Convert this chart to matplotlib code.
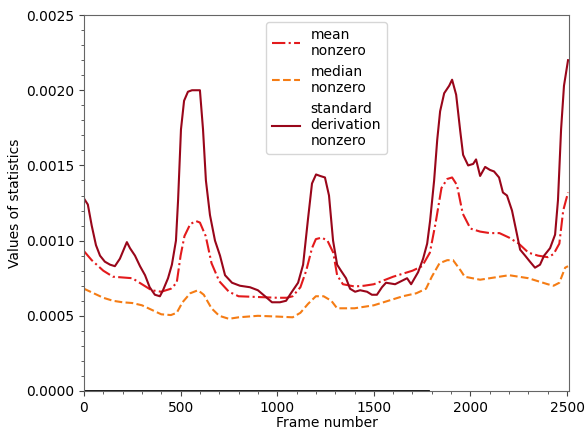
import matplotlib
matplotlib.use('Agg')
import matplotlib.pyplot as plt
from matplotlib.ticker import AutoMinorLocator

# valores
frames_std = [0, 20, 40, 62, 83, 108, 135, 160, 186, 212, 222, 238, 264, 290, 316, 340,
              367, 393, 409, 435, 455, 476, 487, 502, 518, 538, 559, 580, 600, 616, 631,
              652, 678, 704, 730, 766, 807, 859, 900, 937, 973, 1014, 1046, 1071, 1108,
              1134, 1159, 1180, 1201, 1222, 1247, 1268, 1289, 1310, 1330, 1356, 1377,
              1403, 1429, 1465, 1490, 1516, 1542, 1563, 1610, 1641, 1672, 1693, 1729,
              1755, 1776, 1791, 1812, 1828, 1843, 1864, 1890, 1905, 1926, 1947, 1962,
              1988, 2014, 2029, 2050, 2076, 2101, 2122, 2148, 2168, 2189, 2215, 2241,
              2257, 2283, 2308, 2334, 2360, 2381, 2412, 2438, 2453, 2469, 2484, 2505]
std_nonzero = [0.00128, 0.00124, 0.00110, 0.00097, 0.00090, 0.00086, 0.00084, 0.00083,
               0.00088, 0.00096, 0.00099, 0.00095, 0.00090, 0.00083, 0.00077, 0.00069,
               0.00064, 0.00063, 0.00067, 0.00075, 0.00084, 0.00100, 0.00127, 0.00174,
               0.00193, 0.00199, 0.00200, 0.00200, 0.00200, 0.00174, 0.00140, 0.00117,
               0.00100, 0.00090, 0.00077, 0.00072, 0.00070, 0.00069, 0.00067, 0.00063,
               0.00059, 0.00059, 0.00060, 0.00065, 0.00072, 0.00084, 0.00114, 0.00138,
               0.00144, 0.00143, 0.00142, 0.00130, 0.00100, 0.00084, 0.00080, 0.00075,
               0.00068, 0.00066, 0.00067, 0.00066, 0.00064, 0.00064, 0.00069, 0.00072,
               0.00071, 0.00073, 0.00075, 0.00071, 0.00079, 0.00088, 0.00098, 0.00113,
               0.00140, 0.00167, 0.00186, 0.00198, 0.00203, 0.00207, 0.00197, 0.00173,
               0.00157, 0.00150, 0.00151, 0.00154, 0.00143, 0.00149, 0.00147, 0.00146,
               0.00142, 0.00132, 0.00130, 0.00120, 0.00104, 0.00094, 0.00090, 0.00086,
               0.00082, 0.00084, 0.00090, 0.00095, 0.00104, 0.00127, 0.00174, 0.00203,
               0.00220]

frames_mean = [0, 40, 100, 150, 200, 250, 300, 350, 400, 450, 480, 500, 520, 550, 580,
               600, 630, 660, 700, 750, 800, 900, 1000, 1050, 1080, 1120, 1150, 1180,
               1200, 1230, 1260, 1290, 1310, 1340, 1400, 1450, 1500, 1600, 1700, 1750,
               1790, 1820, 1850, 1880, 1905, 1930, 1960, 2000, 2050, 2100, 2150, 2200,
               2250, 2300, 2350, 2400, 2430, 2460, 2480, 2505]
mean_nonzero = [0.00093, 0.00087, 0.00080, 0.00076, 0.000755, 0.00075, 0.00071, 0.00067,
                0.00066, 0.00068, 0.00072, 0.00090, 0.00103, 0.00111, 0.00113, 0.00112,
                0.00103, 0.00085, 0.00073, 0.00066, 0.00063, 0.000625, 0.00062, 0.00062,
                0.00063, 0.00069, 0.00080, 0.00095, 0.00101, 0.00102, 0.00100, 0.00092,
                0.00077, 0.00071, 0.000695, 0.00070, 0.00071, 0.00076, 0.00080, 0.00083,
                0.00092, 0.00112, 0.00135, 0.00141, 0.00142, 0.00137, 0.00118, 0.00108,
                0.00106, 0.00105, 0.00105, 0.00102, 0.00098, 0.00092, 0.00090, 0.00089,
                0.00091, 0.00098, 0.00120, 0.00132]

frames_median = [0, 50, 100, 150, 200, 250, 300, 350, 400, 450, 480, 510, 550, 590, 620,
                 660, 700, 750, 800, 900, 1000, 1080, 1120, 1160, 1200, 1240, 1280, 1310,
                 1400, 1500, 1600, 1650, 1720, 1770, 1800, 1840, 1880, 1910, 1950, 1970,
                 2050, 2100, 2200, 2300, 2400, 2430, 2460, 2490, 2505]
median_nonzero = [0.00068, 0.00065, 0.00062, 0.00060, 0.00059, 0.000585, 0.00057, 0.00054,
                  0.00051, 0.000505, 0.00052, 0.00059, 0.00065, 0.00067, 0.00064, 0.00055,
                  0.00050, 0.00048, 0.00049, 0.00050, 0.000495, 0.00049, 0.00052, 0.00058,
                  0.00063, 0.00063, 0.00060, 0.00055, 0.00055, 0.00057, 0.00061, 0.00063,
                  0.00065, 0.00068, 0.00076, 0.00085, 0.00087, 0.00087, 0.00080, 0.00076,
                  0.00074, 0.00075, 0.00077, 0.00075, 0.00071, 0.00070, 0.00072, 0.00082,
                  0.00083]

# tramo en cero
frames_cero = [0, 1780]
valores_cero = [0, 0]

fig = plt.figure(figsize=(5.86, 4.3), dpi=100)
ax = fig.add_axes([0.1433, 0.0907, 0.8277, 0.8743])

ax.plot(frames_cero, valores_cero, color='black', linewidth=2)
ax.plot(frames_mean, mean_nonzero, color='#e31a1c', linestyle='-.', linewidth=1.5,
        label='mean\nnonzero')
ax.plot(frames_median, median_nonzero, color='#f57c14', linestyle='--', linewidth=1.5,
        label='median\nnonzero')
ax.plot(frames_std, std_nonzero, color='#99061a', linestyle='-', linewidth=1.5,
        label='standard\nderivation\nnonzero')

ax.set_xlim(0, 2510)
ax.set_ylim(0, 0.0025)
ax.set_xticks([0, 500, 1000, 1500, 2000, 2500])
ax.set_yticks([0, 0.0005, 0.001, 0.0015, 0.002, 0.0025])
ax.yaxis.set_major_formatter(matplotlib.ticker.FormatStrFormatter('%.4f'))
ax.xaxis.set_minor_locator(AutoMinorLocator(5))
ax.yaxis.set_minor_locator(AutoMinorLocator(5))

for s in ax.spines.values():
    s.set_color('#666666')
ax.tick_params(which='both', color='#444444', labelsize=10)

ax.set_xlabel('Frame number', labelpad=1)
ax.set_ylabel('Values of statistics', labelpad=3)
ax.legend(loc='upper center')

plt.savefig('out.png')
